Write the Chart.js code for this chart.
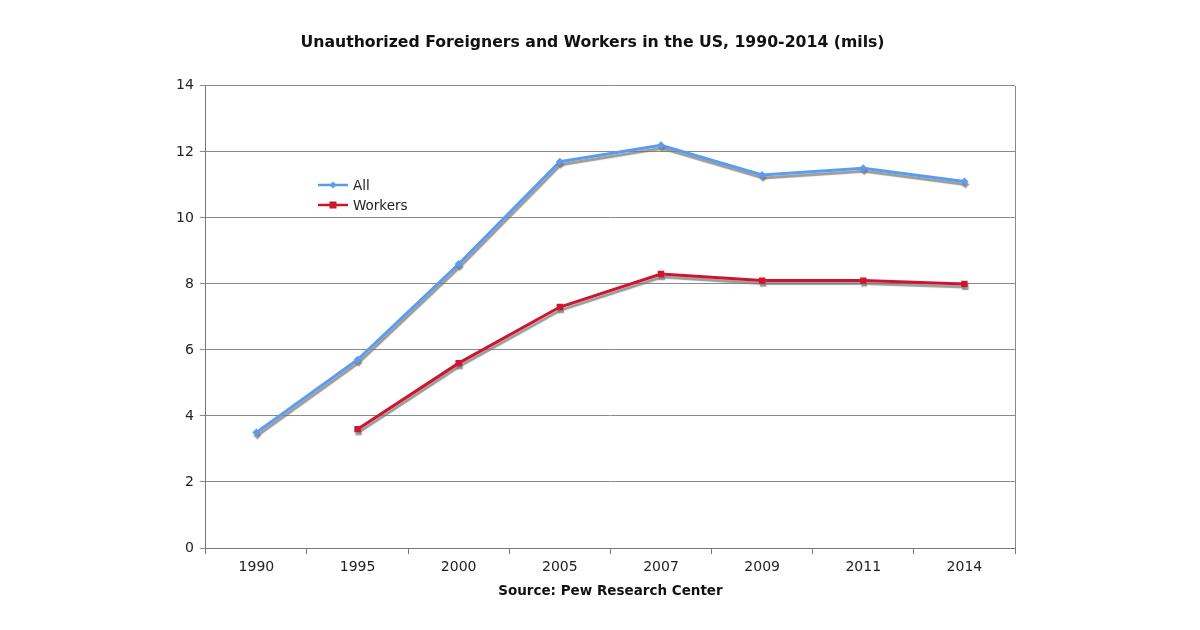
<!DOCTYPE html>
<html>
<head>
<meta charset="utf-8">
<script src="https://cdn.jsdelivr.net/npm/chart.js@4"></script>
<style>
  html, body { margin: 0; padding: 0; background: #fff; }
  #wrap { width: 1200px; height: 630px; }
</style>
</head>
<body>
<div id="wrap"><canvas id="chart" width="1200" height="630"></canvas></div>
<script>
const years = ["1990", "1995", "2000", "2005", "2007", "2009", "2011", "2014"];
const allValues = [3.5, 5.7, 8.6, 11.7, 12.2, 11.3, 11.5, 11.1];
const workerValues = [null, 3.6, 5.6, 7.3, 8.3, 8.1, 8.1, 8.0];
const yTicks = [0, 2, 4, 6, 8, 10, 12, 14];

const font = "'DejaVu Sans', Verdana, sans-serif";

// grey drop shadow under the lines, like the old Excel look
const shadowPlugin = {
    id: "lineShadow",
    beforeDatasetDraw(chart) {
        const ctx = chart.ctx;
        ctx.save();
        ctx.shadowColor = "rgba(120,120,120,0.75)";
        ctx.shadowOffsetX = 1;
        ctx.shadowOffsetY = 3;
        ctx.shadowBlur = 1;
    },
    afterDatasetDraw(chart) {
        chart.ctx.restore();
    }
};

// right-hand border of the plot and the legend inside the plot
const framePlugin = {
    id: "frame",
    afterDraw(chart) {
        const ctx = chart.ctx;
        const a = chart.chartArea;
        ctx.save();
        ctx.strokeStyle = "#8a8a8a";
        ctx.lineWidth = 1;
        ctx.beginPath();
        ctx.moveTo(Math.round(a.right) + 0.5, a.top);
        ctx.lineTo(Math.round(a.right) + 0.5, a.bottom);
        ctx.stroke();

        let x = 318, y = 185;
        chart.data.datasets.forEach((ds) => {
            ctx.strokeStyle = ds.borderColor;
            ctx.lineWidth = 2.5;
            ctx.beginPath();
            ctx.moveTo(x, y);
            ctx.lineTo(x + 30, y);
            ctx.stroke();
            ctx.fillStyle = ds.backgroundColor;
            const cx = x + 15;
            ctx.beginPath();
            if (ds.pointStyle === "rectRot") {
                ctx.moveTo(cx, y - 3.5);
                ctx.lineTo(cx + 3.5, y);
                ctx.lineTo(cx, y + 3.5);
                ctx.lineTo(cx - 3.5, y);
            } else {
                ctx.rect(cx - 3.5, y - 3.5, 7, 7);
            }
            ctx.fill();
            ctx.fillStyle = "#222";
            ctx.font = "13.5px " + font;
            ctx.textBaseline = "middle";
            ctx.fillText(ds.label, x + 35, y + 1);
            y += 20;
        });
        ctx.restore();
    }
};

new Chart(document.getElementById("chart"), {
    type: "line",
    data: {
        labels: years,
        datasets: [
            {
                label: "All",
                data: allValues,
                borderColor: "#5b9bf0",
                backgroundColor: "#5b9bf0",
                borderWidth: 3,
                pointStyle: "rectRot",
                pointRadius: 4,
                pointBorderWidth: 0,
                tension: 0
            },
            {
                label: "Workers",
                data: workerValues,
                borderColor: "#d0142c",
                backgroundColor: "#d0142c",
                borderWidth: 3,
                pointStyle: "rect",
                pointRadius: 4.5,
                pointBorderWidth: 0,
                tension: 0
            }
        ]
    },
    options: {
        responsive: false,
        animation: false,
        layout: { padding: { left: 170, right: 185, top: 24, bottom: 30 } },
        scales: {
            x: {
                offset: true,
                grid: {
                    offset: true,
                    drawOnChartArea: false,
                    drawTicks: true,
                    tickLength: 6,
                    color: "#777"
                },
                border: { color: "#777", width: 1 },
                ticks: { color: "#222", font: { family: font, size: 14 }, padding: 5 },
                title: {
                    display: true,
                    text: "Source: Pew Research Center",
                    color: "#111",
                    font: { family: font, size: 13.5, weight: "bold" },
                    padding: { top: 3, bottom: 0 }
                }
            },
            y: {
                min: 0,
                max: 14,
                afterBuildTicks(scale) {
                    scale.ticks = yTicks.map((v) => ({ value: v }));
                },
                grid: { color: "#8a8a8a", tickLength: 6 },
                border: { color: "#777", width: 1 },
                ticks: { color: "#222", font: { family: font, size: 14 }, padding: 6 }
            }
        },
        plugins: {
            legend: { display: false },
            tooltip: { enabled: false },
            title: {
                display: true,
                text: "Unauthorized Foreigners and Workers in the US, 1990-2014 (mils)",
                color: "#111",
                font: { family: font, size: 15.7, weight: "bold" },
                padding: { top: 10, bottom: 33 }
            }
        }
    },
    plugins: [shadowPlugin, framePlugin]
});
</script>
</body>
</html>
